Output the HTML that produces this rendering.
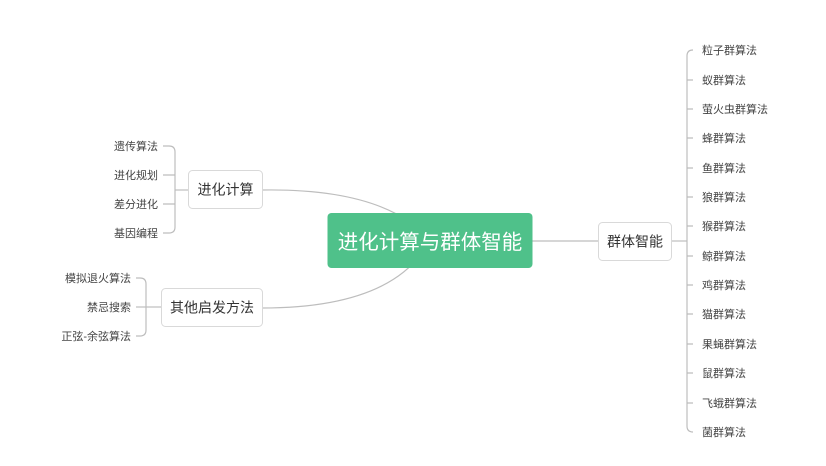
<!DOCTYPE html>
<html><head><meta charset="utf-8">
<style>
html,body{margin:0;padding:0;background:#fff;}
svg{display:block;}
text{font-family:"Liberation Sans","Noto Sans CJK SC",sans-serif;}
</style></head>
<body>
<svg width="826" height="466" viewBox="0 0 826 466" xmlns="http://www.w3.org/2000/svg">
<g fill="none" stroke="#bdbdbd" stroke-width="1.2">
  <path d="M262,190 Q385,188 430,240"/>
  <path d="M262,308 Q395,308 430,240"/>
  <path d="M532,241 L598,241"/>
  <!-- right bracket -->
  <path d="M671,241 L687,241"/>
  <path d="M693,50 Q687,50 687,56 L687,426 Q687,432 693,432"/>
  <path d="M687,80 H693 M687,109 H693 M687,138 H693 M687,168 H693 M687,197 H693 M687,226 H693 M687,256 H693 M687,285 H693 M687,314 H693 M687,344 H693 M687,373 H693 M687,403 H693"/>
  <!-- left bracket 1 -->
  <path d="M188,190 L175,190"/>
  <path d="M163,146 H169 Q175,146 175,152 L175,227 Q175,233 169,233 H163"/>
  <path d="M163,175 H175 M163,204 H175"/>
  <!-- left bracket 2 -->
  <path d="M161,307 L146,307"/>
  <path d="M136,278 H140 Q146,278 146,284 L146,330 Q146,336 140,336 H136"/>
  <path d="M136,307 H146"/>
</g>
<rect x="327.5" y="213" width="205" height="55" rx="4" fill="#4fc18a"/>
<text x="430" y="249" font-size="20.5" fill="#fff" text-anchor="middle">进化计算与群体智能</text>
<g fill="#fff" stroke="#d9d9d9" stroke-width="1">
  <rect x="598.5" y="222.5" width="73" height="38" rx="4"/>
  <rect x="188.5" y="170.5" width="74" height="38" rx="4"/>
  <rect x="161.5" y="288.5" width="101" height="38" rx="4"/>
</g>
<g font-size="14" fill="#333" text-anchor="middle">
  <text x="635" y="246.5">群体智能</text>
  <text x="225.5" y="194.5">进化计算</text>
  <text x="212" y="312.5">其他启发方法</text>
</g>
<g font-size="11" fill="#444">
  <text x="702" y="54">粒子群算法</text>
  <text x="702" y="84">蚁群算法</text>
  <text x="702" y="113">萤火虫群算法</text>
  <text x="702" y="142">蜂群算法</text>
  <text x="702" y="172">鱼群算法</text>
  <text x="702" y="201">狼群算法</text>
  <text x="702" y="230">猴群算法</text>
  <text x="702" y="260">鲸群算法</text>
  <text x="702" y="289">鸡群算法</text>
  <text x="702" y="318">猫群算法</text>
  <text x="702" y="348">果蝇群算法</text>
  <text x="702" y="377">鼠群算法</text>
  <text x="702" y="407">飞蛾群算法</text>
  <text x="702" y="436">菌群算法</text>
</g>
<g font-size="11" fill="#444" text-anchor="end">
  <text x="158" y="150">遗传算法</text>
  <text x="158" y="179">进化规划</text>
  <text x="158" y="208">差分进化</text>
  <text x="158" y="237">基因编程</text>
  <text x="131" y="282">模拟退火算法</text>
  <text x="131" y="311">禁忌搜索</text>
  <text x="131" y="340">正弦-余弦算法</text>
</g>
</svg>
</body></html>
